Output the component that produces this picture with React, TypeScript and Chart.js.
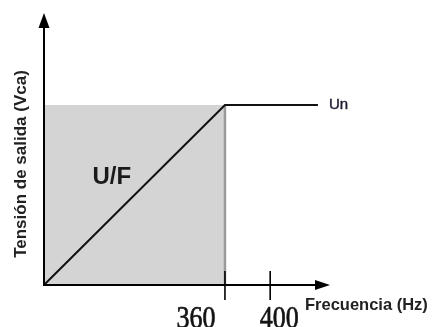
import React, { useEffect, useRef } from "react";
import { Chart, registerables } from "chart.js";

Chart.register(...registerables);

// Diagram data (x in diagram frequency units, y relative to Un)
const UN = 1;
const breakFreq = 360;
const lineEndFreq = 545;
const xMaxUnits = 569;
const yMaxUnits = 1.511;
const uFLineX = [0, breakFreq, lineEndFreq];
const uFLineY = [0, UN, UN];
const fillX = [0, breakFreq];
const fillY = [UN, UN];
const edgeX = [breakFreq, breakFreq];
const edgeY = [0, UN];
const tickPositions = [360, 450];
const tickLabels = ["360", "400"];
const xTitle = "Frecuencia (Hz)";
const yTitle = "Tensión de salida (Vca)";
const curveLabel = "U/F";
const levelLabel = "Un";

const zip = (xs: number[], ys: number[]) => xs.map((x, i) => ({ x, y: ys[i] }));

const axesPlugin = {
  id: "axesPlugin",
  afterDraw(chart: any) {
    const { ctx, chartArea, scales } = chart;
    const xs = scales.x;
    const ys = scales.y;
    const x0 = xs.getPixelForValue(0);
    const y0 = ys.getPixelForValue(0);
    const top = chartArea.top;
    const right = chartArea.right;
    ctx.save();
    ctx.strokeStyle = "#000";
    ctx.fillStyle = "#000";
    ctx.lineWidth = 2;
    // y axis
    ctx.beginPath();
    ctx.moveTo(x0, y0 + 1);
    ctx.lineTo(x0, top + 12);
    ctx.stroke();
    ctx.beginPath();
    ctx.moveTo(x0, top);
    ctx.lineTo(x0 - 5.5, top + 15);
    ctx.lineTo(x0 + 5.5, top + 15);
    ctx.closePath();
    ctx.fill();
    // x axis
    ctx.beginPath();
    ctx.moveTo(x0 - 1, y0);
    ctx.lineTo(right - 12, y0);
    ctx.stroke();
    ctx.beginPath();
    ctx.moveTo(right, y0);
    ctx.lineTo(right - 15, y0 - 5);
    ctx.lineTo(right - 15, y0 + 5);
    ctx.closePath();
    ctx.fill();
    // ticks
    ctx.lineWidth = 1.6;
    const labelOffsets = [-29, 9];
    tickPositions.forEach((p, i) => {
      const xp = xs.getPixelForValue(p);
      ctx.beginPath();
      ctx.moveTo(xp, y0 - 14);
      ctx.lineTo(xp, y0 + 15);
      ctx.stroke();
      ctx.save();
      ctx.translate(xp + labelOffsets[i], y0 + 43);
      ctx.scale(1, 1.2);
      ctx.font = "26px 'Liberation Serif', serif";
      ctx.textAlign = "center";
      ctx.textBaseline = "alphabetic";
      ctx.fillStyle = "#141414";
      ctx.strokeStyle = "#141414";
      ctx.lineWidth = 0.6;
      ctx.fillText(tickLabels[i], 0, 0);
      ctx.strokeText(tickLabels[i], 0, 0);
      ctx.restore();
    });
    // axis titles
    ctx.fillStyle = "#222";
    ctx.font = "bold 16.5px 'Liberation Sans', Arial, sans-serif";
    ctx.textAlign = "left";
    ctx.textBaseline = "middle";
    ctx.fillText(xTitle, right - 25, y0 + 20);
    ctx.save();
    ctx.translate(x0 - 23, (top + y0) / 2 + 15);
    ctx.rotate(-Math.PI / 2);
    ctx.textAlign = "center";
    ctx.font = "bold 17px 'Liberation Sans', Arial, sans-serif";
    ctx.fillText(yTitle, 0, 0);
    ctx.restore();
    // curve labels
    ctx.font = "bold 24px 'Liberation Sans', Arial, sans-serif";
    ctx.textAlign = "center";
    ctx.fillStyle = "#1a1a1a";
    ctx.fillText(curveLabel, xs.getPixelForValue(135), ys.getPixelForValue(0.6));
    ctx.font = "15px 'Liberation Sans', Arial, sans-serif";
    ctx.textAlign = "left";
    ctx.fillStyle = "#1a1a30";
    ctx.strokeStyle = "#1a1a30";
    ctx.lineWidth = 0.4;
    ctx.fillText(levelLabel, xs.getPixelForValue(lineEndFreq) + 11, ys.getPixelForValue(UN));
    ctx.strokeText(levelLabel, xs.getPixelForValue(lineEndFreq) + 11, ys.getPixelForValue(UN));
    ctx.restore();
  },
};

export default function App() {
  const ref = useRef<HTMLCanvasElement>(null);
  useEffect(() => {
    if (!ref.current) return;
    const chart = new Chart(ref.current, {
      type: "scatter",
      data: {
        datasets: [
          {
            data: zip(uFLineX, uFLineY),
            showLine: true,
            borderColor: "#111",
            borderWidth: 2,
            pointRadius: 0,
            fill: false,
            order: 1,
          },
          {
            data: zip(edgeX, edgeY),
            showLine: true,
            borderColor: "#9a9a9a",
            borderWidth: 2.5,
            pointRadius: 0,
            fill: false,
            order: 2,
          },
          {
            data: zip(fillX, fillY),
            showLine: true,
            borderWidth: 0,
            borderColor: "rgba(0,0,0,0)",
            backgroundColor: "#d4d4d4",
            pointRadius: 0,
            fill: "origin",
            order: 3,
          },
        ],
      },
      options: {
        responsive: false,
        animation: false,
        layout: { padding: { left: 44, top: 13, right: 103, bottom: 42 } },
        scales: {
          x: { type: "linear", min: 0, max: xMaxUnits, display: false },
          y: { type: "linear", min: 0, max: yMaxUnits, display: false },
        },
        plugins: { legend: { display: false }, tooltip: { enabled: false } },
      },
      plugins: [axesPlugin],
    });
    return () => chart.destroy();
  }, []);
  return (
    <div style={{ position: "fixed", left: 0, top: 0, width: 433, height: 327, background: "#fff" }}>
      <canvas ref={ref} width={433} height={327} style={{ display: "block" }} />
    </div>
  );
}
